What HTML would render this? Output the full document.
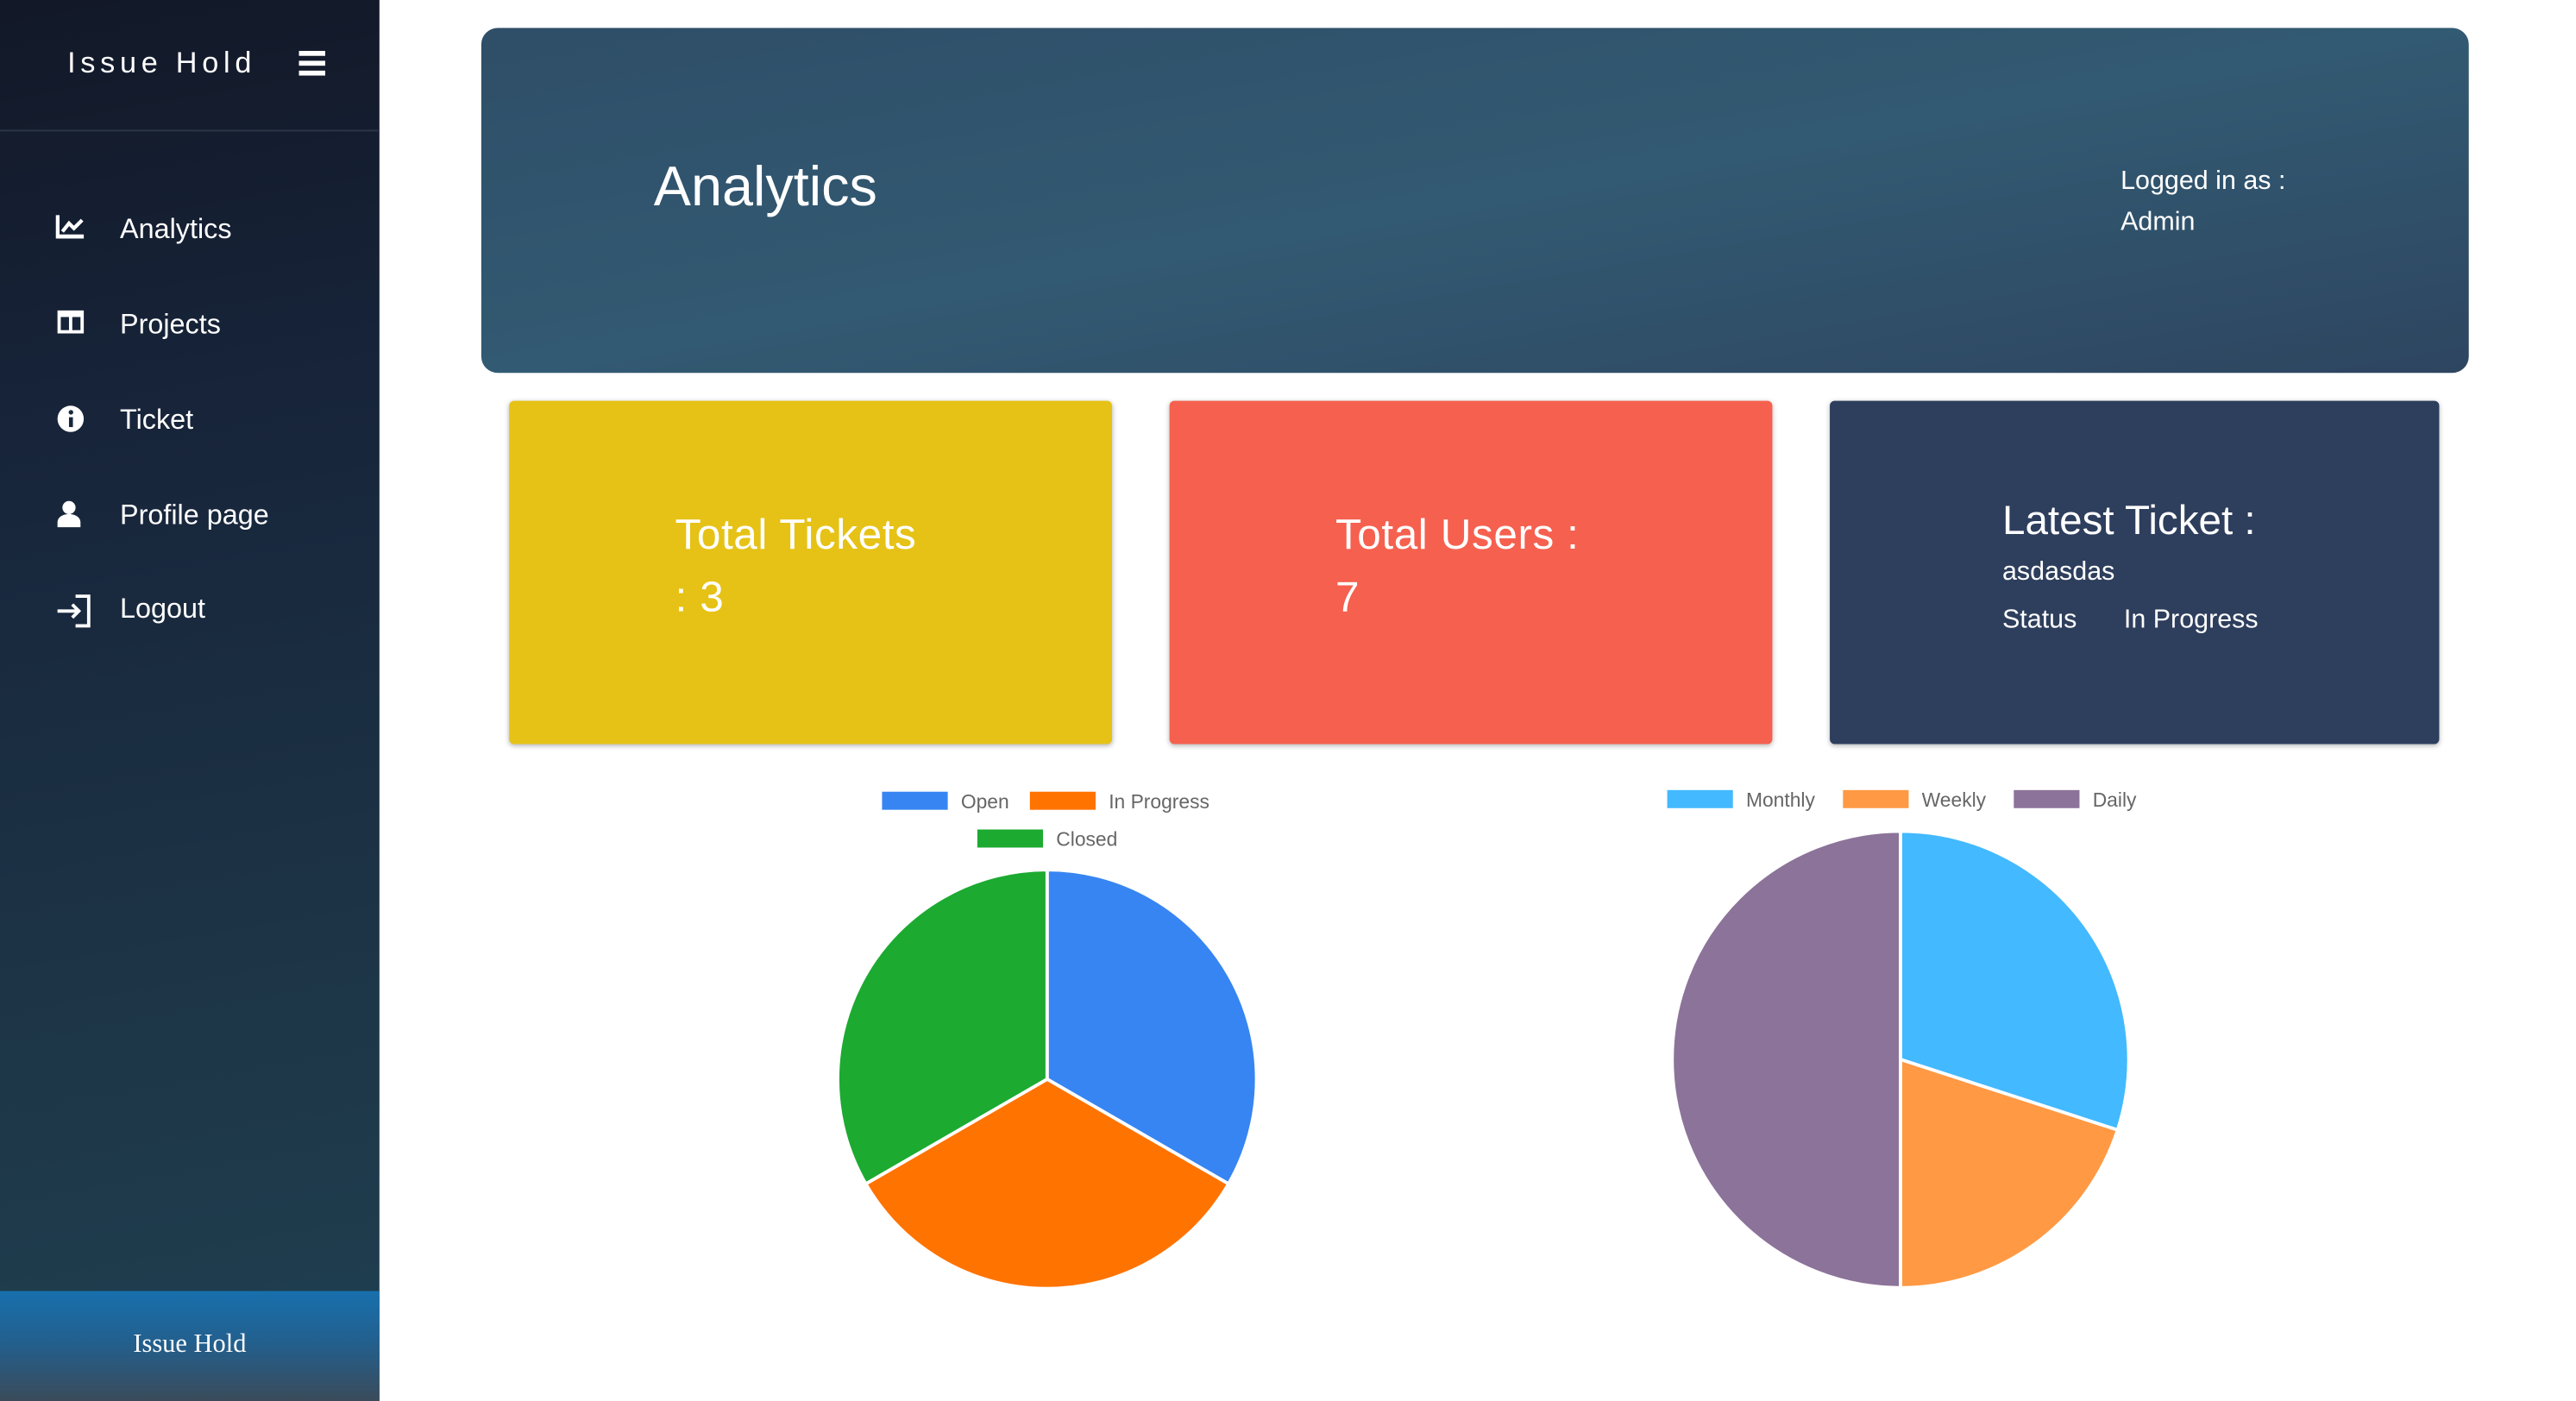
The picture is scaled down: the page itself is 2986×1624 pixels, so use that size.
<!DOCTYPE html>
<html><head><meta charset="utf-8"><style>
html,body{margin:0;padding:0;width:2986px;height:1624px;overflow:hidden;background:#fff;font-family:"Liberation Sans",sans-serif}
#wrap{position:absolute;left:0;top:0;width:1569px;height:853px;transform:scale(1.904,1.904);transform-origin:0 0}
.abs{position:absolute}
#side{left:0;top:0;width:231px;height:853px;background:linear-gradient(170deg,#121827 0%,#17243a 30%,#1d3547 70%,#1f4050 100%)}
.nav{position:absolute;left:34px;color:#fff;font-size:17px}
.nav span{position:absolute;left:39px;top:0;white-space:nowrap}
.card{position:absolute;top:244px;height:209px;border-radius:3px;box-shadow:0 1px 3px rgba(0,0,0,.3);color:#fff}
</style></head><body>
<div id="wrap">
<div id="side" class="abs">
  <div class="abs" style="left:41px;top:28px;color:#fff;font-size:18px;letter-spacing:3px">Issue Hold</div>
  <div class="abs" style="left:182px;top:31px;width:16px;">
    <div style="height:3px;background:#fff;margin-bottom:3px"></div><div style="height:3px;background:#fff;margin-bottom:3px"></div><div style="height:3px;background:#fff"></div></div>
  <div class="abs" style="left:0;top:79px;width:231px;height:1px;background:#2c3546"></div>
  <div class="nav" style="top:130px"><svg width="18" height="16" viewBox="0 0 18 16"><path d="M1 1v13h16" stroke="#fff" stroke-width="2.5" fill="none"/><path d="M4 11l4-5 3 3 5-5" stroke="#fff" stroke-width="2.2" fill="none"/></svg><span>Analytics</span></div>
  <div class="nav" style="top:188px"><svg width="18" height="16" viewBox="0 0 18 16"><rect x="1" y="1" width="16" height="14" fill="#fff"/><rect x="3" y="5" width="5" height="8" fill="#16243a"/><rect x="10" y="5" width="5" height="8" fill="#16243a"/></svg><span>Projects</span></div>
  <div class="nav" style="top:246px"><svg width="18" height="18" viewBox="0 0 18 18"><circle cx="9" cy="9" r="8" fill="#fff"/><rect x="8" y="8" width="2.4" height="6" fill="#18283c"/><circle cx="9.2" cy="5" r="1.4" fill="#18283c"/></svg><span>Ticket</span></div>
  <div class="nav" style="top:304px"><svg width="18" height="18" viewBox="0 0 18 18"><circle cx="8" cy="5" r="4" fill="#fff"/><path d="M1 17v-3c0-3 3-5 7-5s7 2 7 5v3z" fill="#fff"/></svg><span>Profile page</span></div>
  <div class="nav" style="top:361px"><svg width="22" height="22" viewBox="0 0 22 22"><path d="M12 2h8v18h-8" stroke="#fff" stroke-width="2" fill="none"/><path d="M1 11h13M10 7l4 4-4 4" stroke="#fff" stroke-width="2" fill="none"/></svg><span style="top:0">Logout</span></div>
  <div class="abs" style="left:0;top:786px;width:231px;height:67px;background:linear-gradient(180deg,#1870ad 0%,#22608f 45%,#3a4b5a 100%)">
    <div style="text-align:center;margin-top:24px;color:#fff;font-family:'Liberation Serif',serif;font-size:16px">Issue Hold</div></div>
</div>

<div class="abs" style="left:293px;top:17px;width:1210px;height:210px;border-radius:10px;background:linear-gradient(170deg,#2f4e68 0%,#325a72 50%,#2e4560 100%)">
  <div class="abs" style="left:105px;top:78px;color:#fff;font-size:34px">Analytics</div>
  <div class="abs" style="left:998px;top:81px;color:#fff;font-size:16px;line-height:25px">Logged in as :<br>Admin</div>
</div>

<div class="card" style="left:310px;width:367px;background:#e6c216">
  <div class="abs" style="left:101px;top:62px;font-size:26px;line-height:38px;letter-spacing:.3px">Total Tickets<br>: 3</div></div>
<div class="card" style="left:712px;width:367px;background:#f6604f">
  <div class="abs" style="left:101px;top:62px;font-size:26px;line-height:38px;letter-spacing:.3px">Total Users :<br>7</div></div>
<div class="card" style="left:1114px;width:371px;background:#2e3e5d">
  <div class="abs" style="left:105px;top:59px;font-size:25px">Latest Ticket :</div>
  <div class="abs" style="left:105px;top:96px;font-size:16px">asdasdas</div>
  <div class="abs" style="left:105px;top:125px;font-size:16px">Status</div>
  <div class="abs" style="left:179px;top:125px;font-size:16px">In Progress</div></div>

<svg id="charts" class="abs" style="left:0;top:0" width="1569" height="853"></svg>
</div>
<script>
const statusLabels=["Open","In Progress","Closed"];
const statusValues=[1,1,1];
const statusColors=["#3785f2","#ff7300","#1caa31"];
const periodLabels=["Monthly","Weekly","Daily"];
const periodValues=[3,2,5];
const periodColors=["#43b9ff","#ff9944","#8c7399"];
const NS="http://www.w3.org/2000/svg";
const svg=document.getElementById('charts');
function mk(t,a){const e=document.createElementNS(NS,t);for(const k in a)e.setAttribute(k,a[k]);svg.appendChild(e);return e;}
function pie(cx,cy,r,vals,cols,names,prefix){
  const tot=vals.reduce((a,b)=>a+b,0);let a0=-Math.PI/2;
  vals.forEach((v,i)=>{const a1=a0+v/tot*2*Math.PI;
    const x0=cx+r*Math.cos(a0),y0=cy+r*Math.sin(a0),x1=cx+r*Math.cos(a1),y1=cy+r*Math.sin(a1);
    const p=mk('path',{d:`M${cx},${cy}L${x0},${y0}A${r},${r} 0 ${a1-a0>Math.PI?1:0} 1 ${x1},${y1}Z`,fill:cols[i],stroke:'#fff','stroke-width':2});
    
    
    a0=a1;});
}
function legend(items,cols,pos){
  items.forEach((n,i)=>{const [x,y]=pos[i];
    const r=mk('rect',{x:x,y:y,width:40,height:11,fill:cols[i]});
    
    
    const t=mk('text',{x:x+48,y:y+10,'font-size':12,fill:'#666','font-family':'Liberation Sans, sans-serif'});
    t.textContent=n;
    
    
  });
}
pie(637.5,657,127.5,statusValues,statusColors,statusLabels,'status');
pie(1157,645,139,periodValues,periodColors,periodLabels,'period');
legend(statusLabels,statusColors,[[537,482],[627,482],[595,505]]);
legend(periodLabels,periodColors,[[1015,481],[1122,481],[1226,481]]);
</script>
</body></html>
